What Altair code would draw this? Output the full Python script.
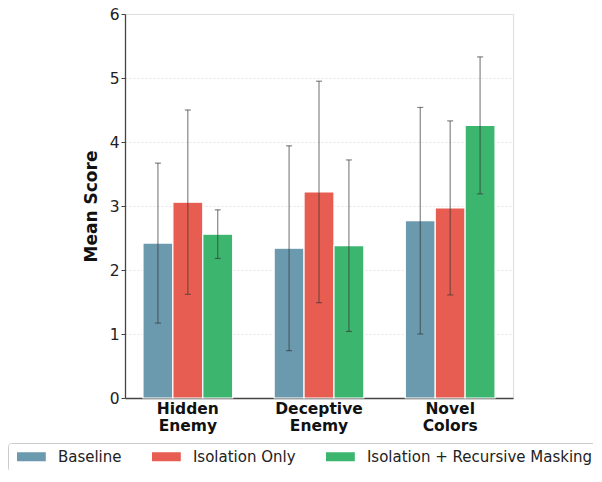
import altair as alt
import pandas as pd

tasks = ["Hidden Enemy", "Deceptive Enemy", "Novel Colors"]
methods = ["Baseline", "Isolation Only", "Isolation + Recursive Masking"]
colors = ["#6b9aae", "#e85d51", "#3cb56e"]

mean_baseline = [2.42, 2.34, 2.77]
mean_isolation = [3.06, 3.22, 2.97]
mean_recursive = [2.56, 2.38, 4.26]

std_baseline = [1.25, 1.60, 1.77]
std_isolation = [1.44, 1.73, 1.36]
std_recursive = [0.38, 1.34, 1.07]

rows = []
for m, means, stds in zip(methods,
                          [mean_baseline, mean_isolation, mean_recursive],
                          [std_baseline, std_isolation, std_recursive]):
    for t, mu, sd in zip(tasks, means, stds):
        rows.append({"task": t, "method": m, "mean": mu,
                     "lo": mu - sd, "hi": mu + sd})
df = pd.DataFrame(rows)

FONT = "DejaVu Sans"

x_enc = alt.X(
    "task:N", sort=tasks,
    scale=alt.Scale(paddingInner=0.316, paddingOuter=0.137),
    axis=alt.Axis(title=None, labelAngle=0, labelFontWeight="bold",
                  labelFontSize=15.5, labelColor="#111", ticks=False,
                  labelPadding=3, labelLineHeight=17.5,
                  labelExpr="split(datum.label, ' ')",
                  domainColor="#444", domainWidth=1.3, grid=False),
)
xo_enc = alt.XOffset("method:N", sort=methods,
                     scale=alt.Scale(paddingInner=0, paddingOuter=0))
y_scale = alt.Scale(domain=[0, 6], nice=False)

bars = alt.Chart(df).mark_bar(stroke="white", strokeWidth=1.2).encode(
    x=x_enc,
    xOffset=xo_enc,
    y=alt.Y("mean:Q", scale=y_scale,
            axis=alt.Axis(title="Mean Score", values=[0, 1, 2, 3, 4, 5, 6],
                          format="d",
                          titleFontSize=17, titleFontWeight="bold",
                          titleColor="#111", titlePadding=9,
                          labelFontSize=15.5, labelColor="#222",
                          tickSize=4, tickColor="#444",
                          domainColor="#444", domainWidth=1.3,
                          gridColor="#dedede", gridDash=[2, 2],
                          gridWidth=0.8)),
    color=alt.Color("method:N", sort=methods,
                    scale=alt.Scale(domain=methods, range=colors),
                    title=None,
                    legend=alt.Legend(
                        orient="none", legendX=-117, legendY=429,
                        direction="horizontal", columns=3,
                        symbolType="M-3.2,-1H3.2V1H-3.2Z", symbolSize=81,
                        symbolOffset=9.9,
                        symbolStrokeWidth=0, symbolOpacity=1,
                        labelFontSize=15, labelColor="#222", labelFont=FONT,
                        labelLimit=400,
                        labelOffset=19, columnPadding=27,
                        padding=6, strokeColor="#cccccc",
                        fillColor="white", cornerRadius=3)),
)

err_rule = alt.Chart(df).mark_rule(color="#333", opacity=0.6,
                                   strokeWidth=1.2).encode(
    x=alt.X("task:N", sort=tasks),
    xOffset=alt.XOffset("method:N", sort=methods),
    y=alt.Y("lo:Q", scale=y_scale),
    y2="hi:Q",
)

cap_lo = alt.Chart(df).mark_tick(color="#333", opacity=0.6, size=6,
                                 thickness=1.2).encode(
    x=alt.X("task:N", sort=tasks),
    xOffset=alt.XOffset("method:N", sort=methods),
    y=alt.Y("lo:Q", scale=y_scale),
)
cap_hi = alt.Chart(df).mark_tick(color="#333", opacity=0.6, size=6,
                                 thickness=1.2).encode(
    x=alt.X("task:N", sort=tasks),
    xOffset=alt.XOffset("method:N", sort=methods),
    y=alt.Y("hi:Q", scale=y_scale),
)

chart = alt.layer(bars, err_rule, cap_lo, cap_hi).properties(
    width=388, height=384,
    autosize=alt.AutoSizeParams(type="none"),
    padding={"left": 117, "top": 6, "right": 80, "bottom": 72},
).configure_view(
    fill="#f9f9f9", stroke="transparent", strokeWidth=0
).configure(
    font=FONT
)

chart.save("out.html", embed_options={"renderer": "svg", "actions": False})
